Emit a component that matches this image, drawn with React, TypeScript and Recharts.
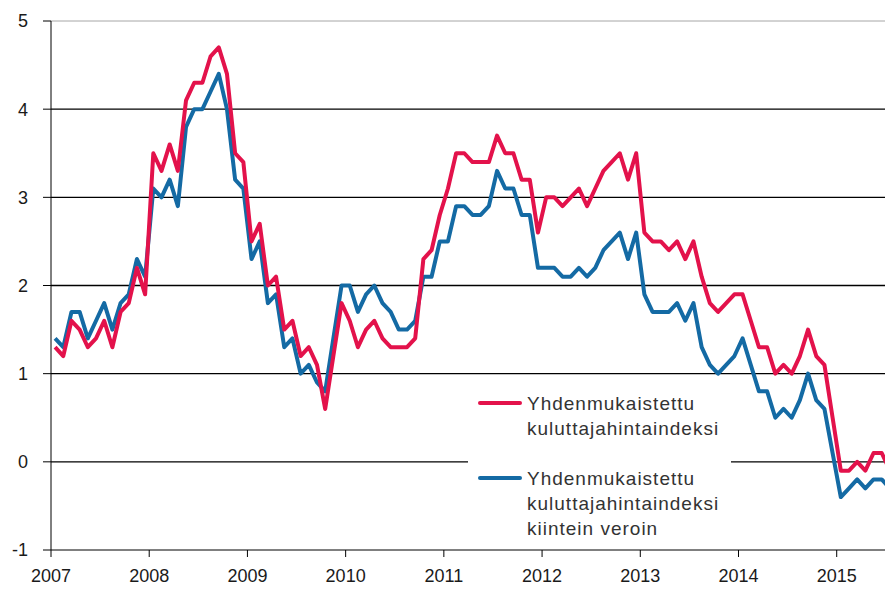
import React from 'react'
import { LineChart, Line, XAxis, YAxis, ReferenceLine, Legend } from 'recharts'

// Monthly figures, Jan 2007 – Jul 2015, annual change %
const years = ['2007', '2008', '2009', '2010', '2011', '2012', '2013', '2014', '2015']

const hicp = [
  1.3, 1.2, 1.6, 1.5, 1.3, 1.4, 1.6, 1.3, 1.7, 1.8, 2.2, 1.9,
  3.5, 3.3, 3.6, 3.3, 4.1, 4.3, 4.3, 4.6, 4.7, 4.4, 3.5, 3.4,
  2.5, 2.7, 2.0, 2.1, 1.5, 1.6, 1.2, 1.3, 1.1, 0.6, 1.2, 1.8,
  1.6, 1.3, 1.5, 1.6, 1.4, 1.3, 1.3, 1.3, 1.4, 2.3, 2.4, 2.8,
  3.1, 3.5, 3.5, 3.4, 3.4, 3.4, 3.7, 3.5, 3.5, 3.2, 3.2, 2.6,
  3.0, 3.0, 2.9, 3.0, 3.1, 2.9, 3.1, 3.3, 3.4, 3.5, 3.2, 3.5,
  2.6, 2.5, 2.5, 2.4, 2.5, 2.3, 2.5, 2.1, 1.8, 1.7, 1.8, 1.9,
  1.9, 1.6, 1.3, 1.3, 1.0, 1.1, 1.0, 1.2, 1.5, 1.2, 1.1, 0.5,
  -0.1, -0.1, 0.0, -0.1, 0.1, 0.1, -0.1,
]

const hicpConstTax = [
  1.4, 1.3, 1.7, 1.7, 1.4, 1.6, 1.8, 1.5, 1.8, 1.9, 2.3, 2.1,
  3.1, 3.0, 3.2, 2.9, 3.8, 4.0, 4.0, 4.2, 4.4, 4.0, 3.2, 3.1,
  2.3, 2.5, 1.8, 1.9, 1.3, 1.4, 1.0, 1.1, 0.9, 0.8, 1.4, 2.0,
  2.0, 1.7, 1.9, 2.0, 1.8, 1.7, 1.5, 1.5, 1.6, 2.1, 2.1, 2.5,
  2.5, 2.9, 2.9, 2.8, 2.8, 2.9, 3.3, 3.1, 3.1, 2.8, 2.8, 2.2,
  2.2, 2.2, 2.1, 2.1, 2.2, 2.1, 2.2, 2.4, 2.5, 2.6, 2.3, 2.6,
  1.9, 1.7, 1.7, 1.7, 1.8, 1.6, 1.8, 1.3, 1.1, 1.0, 1.1, 1.2,
  1.4, 1.1, 0.8, 0.8, 0.5, 0.6, 0.5, 0.7, 1.0, 0.7, 0.6, 0.1,
  -0.4, -0.3, -0.2, -0.3, -0.2, -0.2, -0.3,
]

const yTicks = [-1, 0, 1, 2, 3, 4, 5]
const gridValues = [0, 1, 2, 3, 4]

const RED = '#e3124b'
const BLUE = '#146aa4'
const FONT = 'Arial, "Liberation Sans", sans-serif'

const data = hicp.map((v, i) => ({ m: i, hicp: v, ct: hicpConstTax[i] }))
// year boundaries sit half a month before each January point
const xTicks = years.map((_, k) => k * 12 - 0.5)

const legendItems = [
  { color: RED, lines: ['Yhdenmukaistettu', 'kuluttajahintaindeksi'], top: 23 },
  { color: BLUE, lines: ['Yhdenmukaistettu', 'kuluttajahintaindeksi', 'kiintein veroin'], top: 98 },
]

const LegendBox = () => (
  <div
    style={{
      position: 'relative',
      width: 263,
      height: 165,
      background: '#fff',
      fontFamily: FONT,
      fontSize: 19,
      letterSpacing: 1,
      color: '#333',
      textAlign: 'left',
    }}
  >
    {legendItems.map((item, idx) => (
      <div key={idx}>
        <div
          style={{
            position: 'absolute',
            left: 10,
            top: item.top - 2,
            width: 44,
            height: 4,
            borderRadius: 2,
            background: item.color,
          }}
        />
        <div
          style={{
            position: 'absolute',
            left: 59,
            top: item.top - 12.5,
            lineHeight: '25px',
            whiteSpace: 'nowrap',
          }}
        >
          {item.lines.map((t, j) => (
            <div key={j}>{t}</div>
          ))}
        </div>
      </div>
    ))}
  </div>
)

export default function App() {
  return (
    <div
      style={{
        position: 'absolute',
        left: 0,
        top: 0,
        width: 885,
        height: 590,
        overflow: 'hidden',
        background: '#fff',
      }}
    >
      <LineChart
        width={894}
        height={590}
        data={data}
        margin={{ top: 21, right: 0, bottom: 0, left: 0 }}
      >
        <XAxis
          dataKey="m"
          type="number"
          domain={[-0.5, 102.5]}
          ticks={xTicks}
          interval={0}
          tickFormatter={(v: number) => years[Math.round((v + 0.5) / 12)]}
          height={40}
          tickSize={7}
          tickMargin={12}
          stroke="#000"
          tick={{ fill: '#1a1a1a', fontSize: 18, fontFamily: FONT }}
        />
        <YAxis
          type="number"
          domain={[-1, 5]}
          ticks={yTicks}
          interval={0}
          width={51}
          tickSize={8}
          tickMargin={15}
          stroke="#000"
          tick={{ fill: '#1a1a1a', fontSize: 18, fontFamily: FONT }}
        />
        <ReferenceLine y={5} stroke="#a6a6a6" strokeWidth={1} />
        {gridValues.map((v) => (
          <ReferenceLine key={v} y={v} stroke="#000" strokeWidth={1.3} />
        ))}
        <Legend
          layout="horizontal"
          align="center"
          verticalAlign="middle"
          wrapperStyle={{ left: 468, top: 380, width: 263, height: 165 }}
          content={() => <LegendBox />}
        />
        <Line
          dataKey="ct"
          stroke={BLUE}
          strokeWidth={4}
          dot={false}
          strokeLinejoin="round"
          isAnimationActive={false}
        />
        <Line
          dataKey="hicp"
          stroke={RED}
          strokeWidth={4}
          dot={false}
          strokeLinejoin="round"
          isAnimationActive={false}
        />
      </LineChart>
    </div>
  )
}
